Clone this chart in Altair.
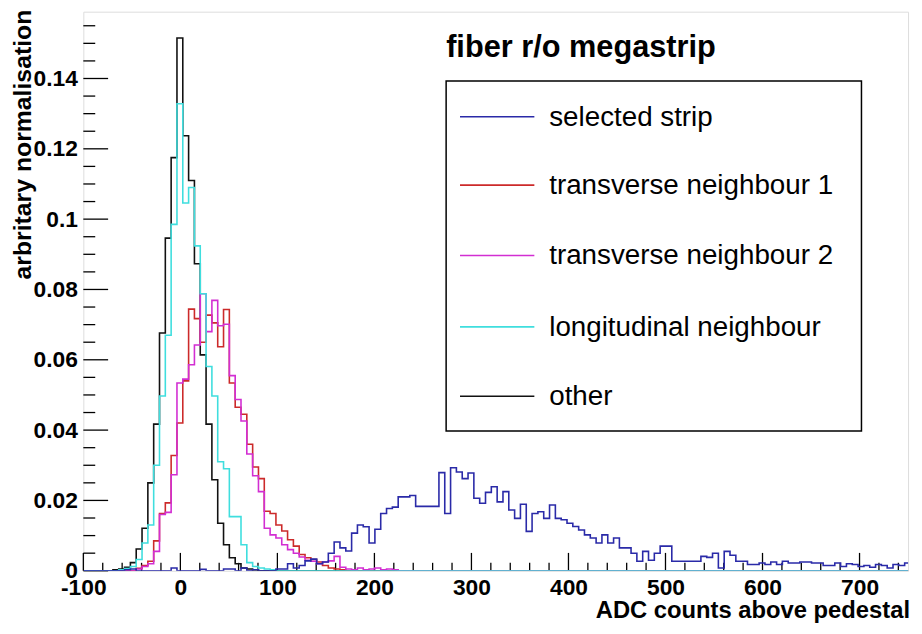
import altair as alt
import pandas as pd

FONT = "Liberation Sans"

# histogram binning (6 ADC counts per bin)
BIN_LOW = -99.5
BIN_WIDTH = 6
N_BINS = 142

SERIES_NAMES = ["selected strip", "transverse neighbour 1", "transverse neighbour 2",
                "longitudinal neighbour", "other"]
SERIES_COLORS = ["#2a2aa8", "#cc2a2a", "#d22ed2", "#3fdede", "#111111"]

# value lists start at the given bin centre
SELECTED_START = -54.5
SELECTED = [0.0003, 0.0005, 0, 0, 0, 0, 0, 0, 0.0008, 0, 0, 0, 0, 0.0004, 0, 0, 0, 0.0005,
            0.0005, 0, 0.0008, 0, 0.0003, 0, 0, 0, 0.0005, 0.0005, 0.002, 0.0008, 0.0015,
            0.0028, 0.0033, 0.002, 0.0025, 0.005, 0.0082, 0.0065, 0.0056, 0.0107, 0.013,
            0.0125, 0.0079, 0.0118, 0.0163, 0.0177, 0.0181, 0.021, 0.021, 0.0214, 0.0183,
            0.0183, 0.0183, 0.0183, 0.0279, 0.0163, 0.0293, 0.0281, 0.0262, 0.0278, 0.0206,
            0.0192, 0.0223, 0.0239, 0.0196, 0.0225, 0.0173, 0.0149, 0.0189, 0.0112, 0.0163,
            0.0168, 0.0149, 0.0187, 0.0149, 0.0145, 0.0135, 0.0126, 0.0116, 0.0102, 0.0093,
            0.0079, 0.0102, 0.0079, 0.0093, 0.0065, 0.0065, 0.005, 0.0027, 0.0055, 0.003,
            0.005, 0.007, 0.007, 0.0027, 0.0027, 0.0027, 0.0027, 0.0027, 0.0041, 0.0038,
            0.005, 0.0008, 0.0055, 0.0044, 0.0027, 0.0027, 0.0018, 0.0018, 0.0022, 0.0018,
            0.0025, 0.0018, 0.0027, 0.0022, 0.0022, 0.0025, 0.0025, 0.0022, 0.0022, 0.0015,
            0.0015, 0.0022, 0.0012, 0.002, 0.0018, 0.0012, 0.0015, 0.001, 0.0018, 0.0015,
            0.0008, 0.0018, 0.0015, 0.0022]

TRANS1_START = -42.5
TRANS1 = [0.0007, 0.0015, 0.0027, 0.0085, 0.0163, 0.0193, 0.0328, 0.042, 0.054, 0.0744,
          0.0717, 0.065, 0.0727, 0.0705, 0.0637, 0.0743, 0.0534, 0.0465, 0.0445, 0.036,
          0.0295, 0.0262, 0.0169, 0.0163, 0.013, 0.0113, 0.0088, 0.007, 0.0046, 0.0037,
          0.0032, 0.0025, 0.0015, 0.0008, 0.0005, 0.0003]

TRANS2_START = -42.5
TRANS2 = [0.0005, 0.0012, 0.002, 0.0055, 0.016, 0.0166, 0.0273, 0.0534, 0.0545, 0.0586,
          0.0642, 0.0788, 0.068, 0.0769, 0.0697, 0.0701, 0.0555, 0.0487, 0.0426, 0.0332,
          0.027, 0.0225, 0.0121, 0.0102, 0.0093, 0.0074, 0.006, 0.005, 0.0039, 0.003,
          0.0027, 0.002, 0.0025, 0.0028, 0.0041, 0.001, 0.0005, 0.0003, 0.0008, 0.0003,
          0.0005, 0.0008, 0.0003, 0.0005, 0.0003]

LONG_START = -60.5
LONG = [0.0003, 0.0006, 0.0012, 0.0032, 0.0079, 0.013, 0.03, 0.0497, 0.067, 0.0985,
        0.1328, 0.1046, 0.109, 0.0924, 0.0788, 0.0581, 0.0497, 0.031, 0.029, 0.0154,
        0.0154, 0.0074, 0.0023, 0.0012, 0.0008, 0.0005, 0.0003]

OTHER_START = -66.5
OTHER = [0.0003, 0.0005, 0.001, 0.0023, 0.0062, 0.0121, 0.025, 0.0417, 0.0676, 0.0946,
         0.1175, 0.1515, 0.1237, 0.111, 0.0873, 0.0614, 0.0417, 0.0259, 0.0135, 0.0074,
         0.0037, 0.002, 0.0008, 0.0005, 0.0002]

X_LABELS = [-100, 0, 100, 200, 300, 400, 500, 600, 700]
Y_LABELS = [0, 0.02, 0.04, 0.06, 0.08, 0.1, 0.12, 0.14]
X_MINOR = [v for v in range(-100, 750, 20) if v % 100 != 0]
Y_MINOR = [round(0.005 * i, 3) for i in range(32) if i % 4 != 0]

LEGEND_TITLE = "fiber r/o megastrip"
X_TITLE = "ADC counts above pedestal"
Y_TITLE = "arbritary normalisation"

W, H = 832, 564


def full_series(start, vals):
    out = [0.0] * N_BINS
    k0 = int(round((start - (BIN_LOW + BIN_WIDTH / 2)) / BIN_WIDTH))
    for i, v in enumerate(vals):
        out[k0 + i] = v
    return out


series_data = {
    "selected strip": full_series(SELECTED_START, SELECTED),
    "transverse neighbour 1": full_series(TRANS1_START, TRANS1),
    "transverse neighbour 2": full_series(TRANS2_START, TRANS2),
    "longitudinal neighbour": full_series(LONG_START, LONG),
    "other": full_series(OTHER_START, OTHER),
}

xs = alt.Scale(domain=[-100, 750], nice=False, zero=False)
ys = alt.Scale(domain=[0, 0.159], nice=False, zero=False)

x_axis = alt.Axis(values=X_LABELS, title=None, grid=False, domain=False, ticks=False,
                  tickSize=0, labelFont=FONT, labelFontSize=23, labelFontWeight="bold",
                  labelColor="black", labelPadding=6, labelFlush=False, labelOverlap=False,
                  labelExpr="datum.value < 0 ? '-' + abs(datum.value) : '' + datum.value")
y_axis = alt.Axis(values=Y_LABELS, title=None, grid=False, domain=False, ticks=False,
                  tickSize=0, labelFont=FONT, labelFontSize=23, labelFontWeight="bold",
                  labelColor="black", labelPadding=6, labelFlush=False, labelOverlap=False,
                  format=".2~f")

layers = []

# ticks (ROOT style, inside the frame)
layers.append(alt.Chart(pd.DataFrame({"v": Y_LABELS})).mark_rule(color="black", strokeWidth=1.3)
              .encode(y=alt.Y("v:Q", scale=ys, axis=y_axis), x=alt.value(0), x2=alt.value(25)))
layers.append(alt.Chart(pd.DataFrame({"v": Y_MINOR})).mark_rule(color="black", strokeWidth=1.3)
              .encode(y=alt.Y("v:Q", scale=ys, axis=y_axis), x=alt.value(0), x2=alt.value(12)))
layers.append(alt.Chart(pd.DataFrame({"v": X_LABELS})).mark_rule(color="black", strokeWidth=1.3)
              .encode(x=alt.X("v:Q", scale=xs, axis=x_axis), y=alt.value(H), y2=alt.value(H - 18)))
layers.append(alt.Chart(pd.DataFrame({"v": X_MINOR})).mark_rule(color="black", strokeWidth=1.3)
              .encode(x=alt.X("v:Q", scale=xs, axis=x_axis), y=alt.value(H), y2=alt.value(H - 8)))

# histograms, drawn in ROOT order
draw_order = ["other", "transverse neighbour 1", "transverse neighbour 2",
              "longitudinal neighbour", "selected strip"]
for name in draw_order:
    vals = series_data[name]
    xsv = [BIN_LOW + k * BIN_WIDTH for k in range(N_BINS)] + [BIN_LOW + N_BINS * BIN_WIDTH]
    ysv = vals + [vals[-1]]
    df = pd.DataFrame({"x": xsv, "y": ysv})
    color = SERIES_COLORS[SERIES_NAMES.index(name)]
    layers.append(alt.Chart(df).mark_line(interpolate="step-after", color=color,
                                          strokeWidth=1.6, clip=True)
                  .encode(x=alt.X("x:Q", scale=xs, axis=x_axis),
                          y=alt.Y("y:Q", scale=ys, axis=y_axis)))

one = pd.DataFrame({"t": [""]})

# legend box and entries
layers.append(alt.Chart(one).mark_rect(fill="white", stroke="black", strokeWidth=1.5)
              .encode(x=alt.value(366), x2=alt.value(785), y=alt.value(70), y2=alt.value(423)))
LEGEND_Y = [106, 175, 246, 318, 388]
for name, color, ly in zip(SERIES_NAMES, SERIES_COLORS, LEGEND_Y):
    layers.append(alt.Chart(one).mark_rule(color=color, strokeWidth=1.6)
                  .encode(x=alt.value(380), x2=alt.value(455), y=alt.value(ly)))
    layers.append(alt.Chart(pd.DataFrame({"t": [name]}))
                  .mark_text(font=FONT, fontSize=28, color="black", align="left",
                             baseline="alphabetic")
                  .encode(x=alt.value(470), y=alt.value(ly + 9), text="t:N"))

layers.append(alt.Chart(pd.DataFrame({"t": [LEGEND_TITLE]}))
              .mark_text(font=FONT, fontSize=31, fontWeight="bold", color="black",
                         align="left", baseline="alphabetic")
              .encode(x=alt.value(366), y=alt.value(46), text="t:N"))

# axis titles
layers.append(alt.Chart(pd.DataFrame({"t": [X_TITLE]}))
              .mark_text(font=FONT, fontSize=24, fontWeight="bold", color="black",
                         align="right", baseline="alphabetic")
              .encode(x=alt.value(W + 2), y=alt.value(612), text="t:N"))
layers.append(alt.Chart(pd.DataFrame({"t": [Y_TITLE]}))
              .mark_text(font=FONT, fontSize=25, fontWeight="bold", color="black",
                         align="right", baseline="alphabetic", angle=270)
              .encode(x=alt.value(-53), y=alt.value(-2), text="t:N"))

chart = alt.layer(*layers).properties(
    width=W, height=H,
    padding={"left": 76, "top": 1, "right": 6, "bottom": 51},
    autosize=alt.AutoSizeParams(type="none"),
).configure_view(stroke="black", strokeWidth=1.5).configure(background="white")

chart.save("out.html", embed_options={"renderer": "svg", "actions": False})
